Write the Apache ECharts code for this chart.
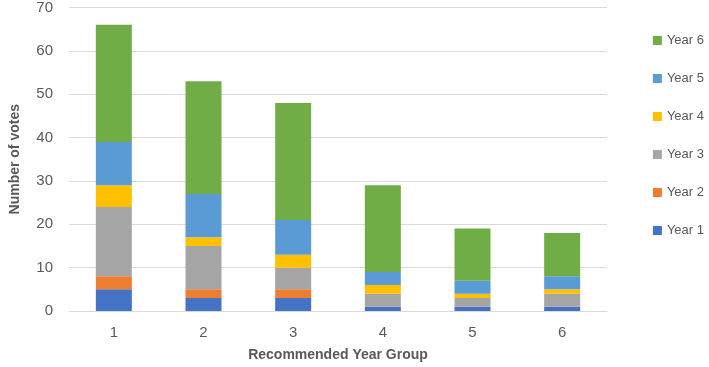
<!DOCTYPE html>
<html><head><meta charset="utf-8">
<script src="https://cdn.jsdelivr.net/npm/echarts@6/dist/echarts.min.js"></script>
<style>html,body{margin:0;padding:0;background:#fff}#c{width:709px;height:367px}</style>
</head><body><div id="c"></div>
<script>
const categories = ['1','2','3','4','5','6'];
const seriesNames = ['Year 1','Year 2','Year 3','Year 4','Year 5','Year 6'];
const year1 = [5,3,3,1,1,1];
const year2 = [3,2,2,0,0,0];
const year3 = [16,10,5,3,2,3];
const year4 = [5,2,3,2,1,1];
const year5 = [10,10,8,3,3,3];
const year6 = [27,26,27,20,12,10];
const colors = ['#4472C4','#ED7D31','#A5A5A5','#FFC000','#5B9BD5','#70AD47'];
const values = [year1,year2,year3,year4,year5,year6];
const font = 'Liberation Sans, Arial, sans-serif';
const chart = echarts.init(document.getElementById('c'));
chart.setOption({
  animation:false,
  textStyle:{fontFamily:font},
  grid:{left:67,right:102,top:7,bottom:56,containLabel:false},
  legend:{
    orient:'vertical', right:0, top:29, itemWidth:9, itemHeight:9, itemGap:25,
    data: seriesNames.slice().reverse(),
    icon:'rect',
    textStyle:{color:'#595959',fontSize:13,fontFamily:font}
  },
  xAxis:{type:'category',data:categories,
    name:'Recommended Year Group',nameLocation:'middle',nameGap:37,
    nameTextStyle:{color:'#595959',fontSize:14,fontWeight:'bold',fontFamily:font},
    axisLine:{lineStyle:{color:'#d9d9d9'}},axisTick:{show:false},
    axisLabel:{color:'#595959',fontSize:15,margin:14}},
  yAxis:{type:'value',min:0,max:70,interval:10,
    name:'Number of votes',nameLocation:'middle',nameGap:47,
    nameTextStyle:{color:'#595959',fontSize:14,fontWeight:'bold',fontFamily:font},
    axisLine:{show:false},axisTick:{show:false},
    splitLine:{lineStyle:{color:'#d9d9d9'}},
    axisLabel:{color:'#595959',fontSize:15,margin:16}},
  series: seriesNames.map((n,i)=>({
    name:n,type:'bar',stack:'a',barWidth:36,data:values[i],
    itemStyle:{color:colors[i]}
  }))
});
</script></body></html>
